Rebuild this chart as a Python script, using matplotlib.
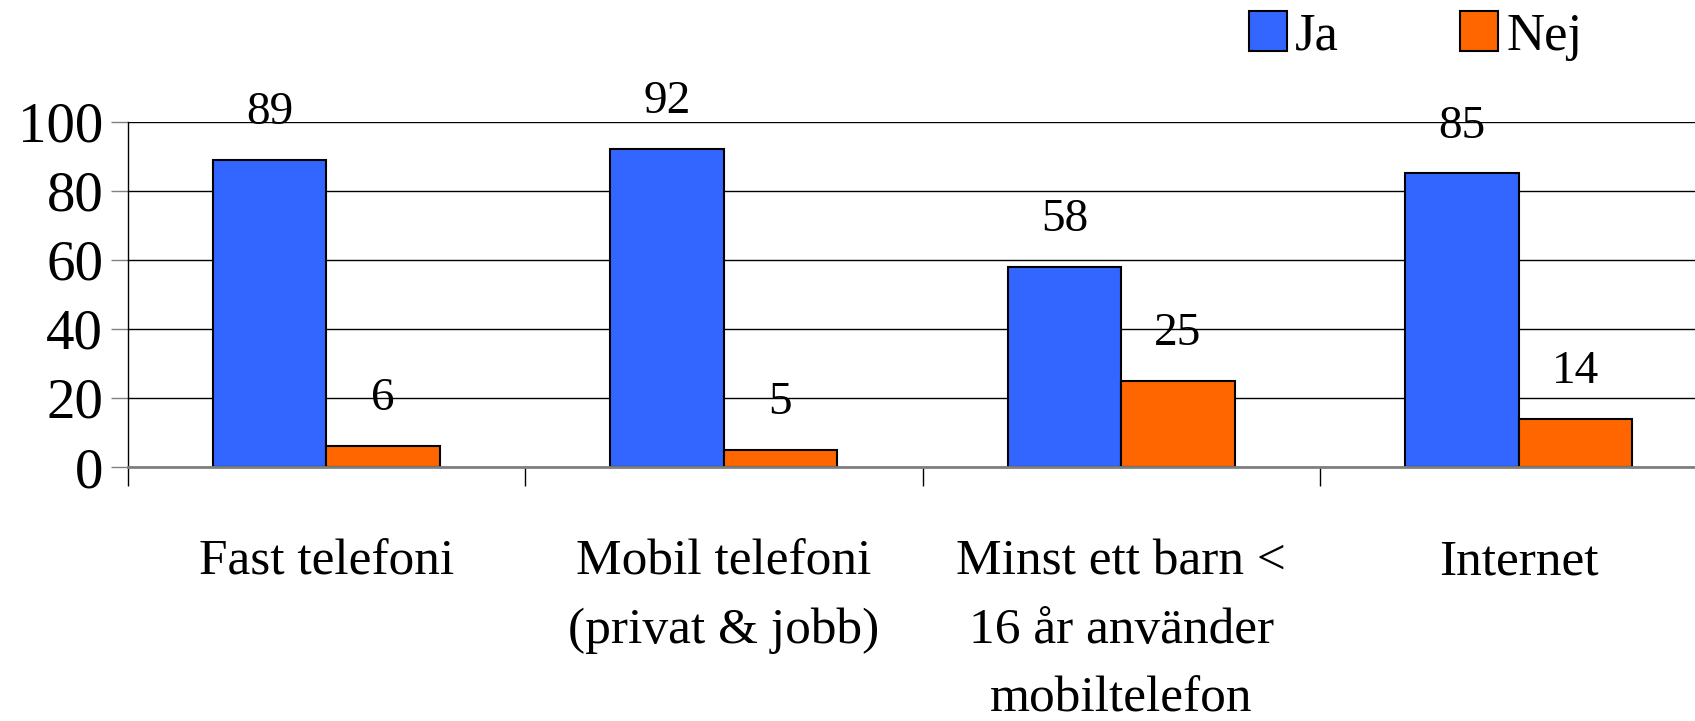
import matplotlib
matplotlib.use("Agg")
import matplotlib.pyplot as plt
from matplotlib.patches import Patch
import numpy as np

categories = ["Fast telefoni", "Mobil telefoni\n(privat & jobb)",
              "Minst ett barn <\n16 år använder\nmobiltelefon", "Internet"]
ja = [89, 92, 58, 85]
nej = [6, 5, 25, 14]
series_names = ["Ja", "Nej"]
yticks = [0, 20, 40, 60, 80, 100]

plt.rcParams['font.family'] = ['Liberation Serif', 'DejaVu Serif']
FS = 34

fig = plt.figure(figsize=(16.95, 7.21), dpi=100)
ax = fig.add_axes([127.5/1695, 1-467/721, 1-127.5/1695, (467-121.7)/721])

x = np.arange(len(categories))
w = 0.2855
blue = "#3366FF"
orange = "#FF6600"
b1 = ax.bar(x - w/2, ja, w, color=blue, edgecolor="black", linewidth=1.5, zorder=3)
b2 = ax.bar(x + w/2, nej, w, color=orange, edgecolor="black", linewidth=1.5, zorder=3)

for bars, vals in ((b1, ja), (b2, nej)):
    for r, v in zip(bars, vals):
        ax.annotate(str(v), (r.get_x() + r.get_width()/2, v),
                    xytext=(0, 34), textcoords="offset points",
                    ha="center", va="center", fontsize=FS)

ax.set_ylim(0, 100)
ax.set_xlim(-0.5, 3.5 - 22.5/397.5)
ax.set_yticks(yticks)
ax.set_yticklabels([str(t) for t in yticks], fontsize=41)
ax.yaxis.grid(True, color="black", linewidth=1.0, zorder=0)
ax.set_axisbelow(True)

ax.set_xticks([-0.5, 0.5, 1.5, 2.5])
ax.set_xticklabels([])
ax.set_xticks(x, minor=True)
ax.set_xticklabels(categories, minor=True, fontsize=37, linespacing=1.62)
ax.tick_params(axis="x", which="major", direction="out", length=13.7, width=1, color="black")
ax.tick_params(axis="x", which="minor", length=0, pad=52)
ax.tick_params(axis="y", direction="out", length=12.5, width=1, color="#808080", pad=5)

for s in ("top", "right"):
    ax.spines[s].set_visible(False)
ax.spines["left"].set_color("black")
ax.spines["left"].set_linewidth(1)
ax.spines["bottom"].set_color("#808080")
ax.spines["bottom"].set_linewidth(2)
ax.spines["bottom"].set_zorder(4)

handles = [Patch(facecolor=blue, edgecolor="black", linewidth=1.5),
           Patch(facecolor=orange, edgecolor="black", linewidth=1.5)]
fig.legend(handles, series_names, loc="center left", bbox_to_anchor=(1249/1695, 1-36/721),
           ncol=2, frameon=False, fontsize=38, borderpad=0, borderaxespad=0,
           handlelength=0.72, handleheight=0.78, handletextpad=0.15, columnspacing=2.3)

fig.savefig("out.png", dpi=100)
